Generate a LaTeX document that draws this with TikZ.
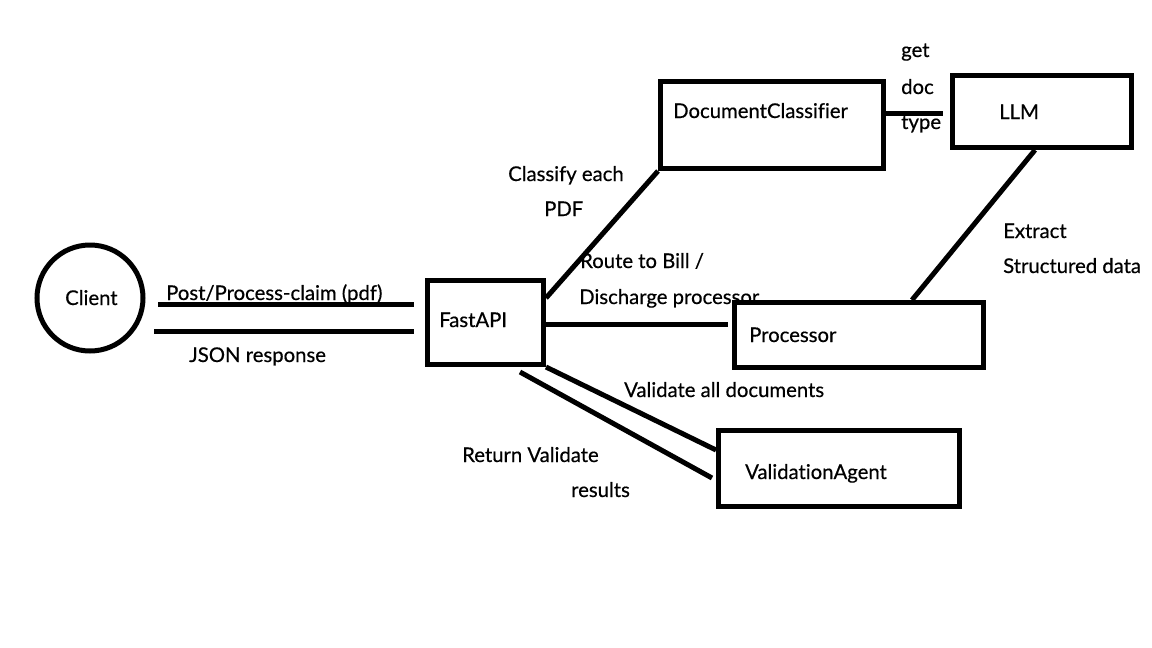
\documentclass[tikz,border=0pt]{standalone}
\usepackage{fontspec}
\setmainfont{Lato}
\newfontfamily\lblfont{Lato}[FakeBold=0.5,Ligatures=NoCommon]
\begin{document}
\begin{tikzpicture}[x=1pt,y=-1pt,
  line/.style={line width=5pt},
  boxn/.style={draw,line width=5pt,rectangle,inner sep=0pt,anchor=north west},
  lbl/.style={anchor=base west,inner sep=0pt,font=\lblfont\fontsize{20.3}{22}\selectfont}]
\useasboundingbox (0,0) rectangle (1152,648);
% shapes
\node[draw,line width=5pt,circle,minimum size=106pt,inner sep=0pt] (client) at (90,298) {};
\node[boxn,minimum width=116pt,minimum height=84pt] (fast) at (425,278) {};
\node[boxn,minimum width=223pt,minimum height=87pt] (dc) at (658,79) {};
\node[boxn,minimum width=179pt,minimum height=72pt] (llm) at (950,73) {};
\node[boxn,minimum width=249pt,minimum height=65pt] (proc) at (732,300) {};
\node[boxn,minimum width=241pt,minimum height=76pt] (va) at (716,428) {};
% text in shapes
\node[lbl] (tclient) at (65,305) {Client};
\node[lbl] (tfast) at (439,327) {FastAPI};
\node[lbl] (tdc) at (673,118) {DocumentClassifier};
\node[lbl] (tllm) at (999,119) {LLM};
\node[lbl] (tproc) at (749,342) {Processor};
\node[lbl] (tva) at (745,479) {ValidationAgent};
% free ends
\coordinate (p1) at (158,304); \coordinate (p2) at (414,304);
\coordinate (j1) at (154,331); \coordinate (j2) at (414,331);
\coordinate (r1) at (546,324); \coordinate (r2) at (728,324);
\coordinate (c1) at (546,298);
\coordinate (w1) at (520,372); \coordinate (w2) at (712,478);
\coordinate (g2) at (943,113);
% connectors
\draw[line] (p1) -- (p2);
\draw[line] (j1) -- (j2);
\draw[line] (c1) -- (dc.south west);
\draw[line] (r1) -- (r2);
\draw[line] (dc.east |- g2) -- (g2);
\draw[line] (llm.south west) ++(85,0) coordinate (l1) (l1) -- (proc.north west -| 912,0);
\draw[line] (fast.south east) -- (716,450);
\draw[line] (w1) -- (w2);
% labels
\node[lbl] at (166,300) {Post/Process-claim (pdf)};
\node[lbl] at (189,362) {JSON response};
\node[lbl] at (508,181) {Classify each};
\node[lbl] at (544,216) {PDF};
\node[lbl] at (580,268) {Route to Bill /};
\node[lbl] at (579,304) {Discharge processor};
\node[lbl] at (624,397) {Validate all documents};
\node[lbl] at (462,462) {Return Validate};
\node[lbl] at (571,497) {results};
\node[lbl] at (901,57) {get};
\node[lbl] at (901,94) {doc};
\node[lbl] at (901,129) {type};
\node[lbl] at (1003,238) {Extract};
\node[lbl] at (1003,273) {Structured data};
\end{tikzpicture}
\end{document}
